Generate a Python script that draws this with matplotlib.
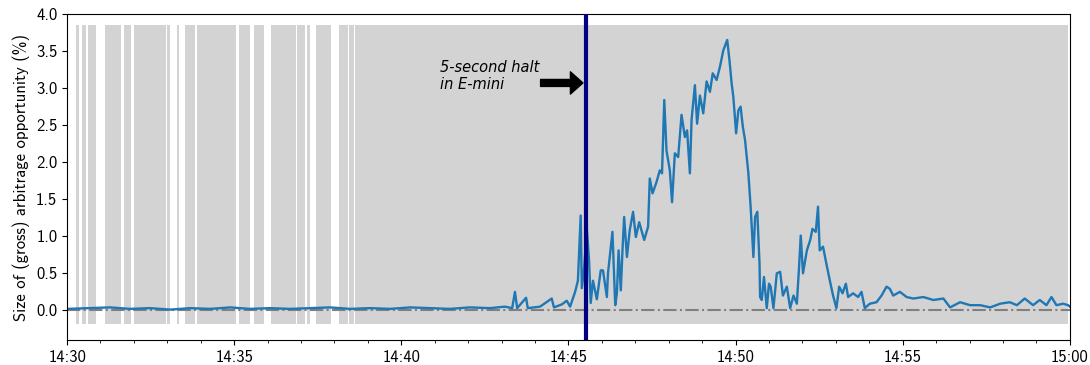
import matplotlib
matplotlib.use("Agg")
import matplotlib.pyplot as plt

# seconds after 14:30:00 and size of the arbitrage opportunity (%)
t_sec = [0, 41, 77, 113, 149, 185, 221, 257, 293, 328, 364, 400, 436, 472, 508,
         544, 580, 616, 651, 687, 723, 759, 786, 799, 804, 808, 824, 827, 849,
         870, 874, 888, 897, 903, 912, 917, 922, 924, 928, 933, 937, 940, 944,
         951, 958, 962, 969, 971, 979, 984, 987, 990, 994, 997, 1000, 1005,
         1010, 1016, 1021, 1027, 1036, 1043, 1046, 1051, 1058, 1064, 1068,
         1072, 1076, 1082, 1086, 1091, 1097, 1103, 1109, 1113, 1118, 1121,
         1127, 1131, 1136, 1142, 1148, 1154, 1159, 1166, 1172, 1178, 1185,
         1189, 1193, 1196, 1201, 1205, 1209, 1213, 1217, 1223, 1227, 1232,
         1235, 1239, 1243, 1244, 1247, 1251, 1256, 1260, 1263, 1268, 1274,
         1280, 1285, 1292, 1298, 1304, 1310, 1314, 1317, 1321, 1328, 1334,
         1338, 1344, 1348, 1351, 1357, 1363, 1369, 1375, 1381, 1386, 1392,
         1398, 1402, 1411, 1420, 1426, 1432, 1441, 1453, 1462, 1471, 1477,
         1483, 1495, 1507, 1519, 1537, 1555, 1573, 1585, 1603, 1621, 1639,
         1657, 1675, 1692, 1705, 1719, 1734, 1746, 1758, 1767, 1776, 1788,
         1797, 1800]
arb_pct = [0.02, 0.03, 0.04, 0.02, 0.03, 0.01, 0.03, 0.02, 0.04, 0.02, 0.03,
           0.02, 0.03, 0.04, 0.02, 0.03, 0.02, 0.04, 0.03, 0.02, 0.04, 0.03,
           0.05, 0.03, 0.25, 0.03, 0.17, 0.03, 0.05, 0.16, 0.04, 0.08, 0.13,
           0.05, 0.25, 0.40, 1.28, 0.30, 0.55, 1.10, 0.68, 0.10, 0.40, 0.15,
           0.54, 0.54, 0.18, 0.50, 1.06, 0.07, 0.23, 0.81, 0.27, 0.81, 1.26,
           0.72, 1.08, 1.33, 0.99, 1.19, 0.95, 1.13, 1.78, 1.58, 1.73, 1.89,
           1.85, 2.84, 2.16, 1.89, 1.46, 2.12, 2.07, 2.64, 2.34, 2.43, 1.85,
           2.57, 3.04, 2.52, 2.90, 2.66, 3.09, 2.95, 3.20, 3.11, 3.29, 3.51,
           3.65, 3.38, 3.06, 2.88, 2.39, 2.70, 2.75, 2.48, 2.30, 1.85, 1.40,
           0.72, 1.26, 1.33, 0.63, 0.18, 0.14, 0.45, 0.03, 0.36, 0.32, 0.03,
           0.50, 0.52, 0.20, 0.32, 0.03, 0.20, 0.09, 0.59, 1.01, 0.50, 0.81,
           0.95, 1.10, 1.06, 1.40, 0.81, 0.86, 0.63, 0.41, 0.20, 0.03, 0.32,
           0.23, 0.36, 0.18, 0.23, 0.18, 0.25, 0.03, 0.09, 0.11, 0.20, 0.32,
           0.29, 0.20, 0.25, 0.18, 0.16, 0.18, 0.14, 0.16, 0.04, 0.11, 0.07,
           0.07, 0.04, 0.09, 0.11, 0.07, 0.16, 0.07, 0.14, 0.07, 0.18, 0.07,
           0.09, 0.07, 0.05]

# periods (seconds after 14:30) shaded in grey
band_start = [16, 27, 38, 68, 102, 120, 180, 197, 211, 233, 309, 336, 367,
              413, 431, 446, 489, 507, 517]
band_end = [22, 34, 52, 96, 115, 177, 184, 201, 230, 303, 328, 354, 411,
            428, 436, 474, 504, 515, 1797]
band_low, band_high = -0.18, 3.85

halt_sec = 931          # 14:45:31
tick_sec = [0, 300, 600, 900, 1200, 1500, 1800]
tick_labels = ["14:30", "14:35", "14:40", "14:45", "14:50", "14:55", "15:00"]

plt.rcParams['font.family'] = ['cmss10', 'DejaVu Sans']
plt.rcParams['axes.formatter.use_mathtext'] = True

fig = plt.figure(figsize=(10.9, 3.65), dpi=100)
ax = fig.add_axes([0.0615, 0.0685, 0.920, 0.893])

for s, e in zip(band_start, band_end):
    ax.fill_between([s, e], band_low, band_high, color='lightgray', lw=0, zorder=0)

ax.axhline(0, color='gray', ls='-.', lw=1.5, zorder=1)
ax.plot(t_sec, arb_pct, color='#1f77b4', lw=1.7, zorder=2)
ax.axvline(halt_sec, color='navy', lw=3, zorder=4)

ax.text(670, 3.16, "5-second halt\nin E-mini", fontsize=10.5, style='italic',
        family='DejaVu Sans', ha='left', va='center', linespacing=1.15)
ax.annotate("", xy=(926, 3.07), xytext=(850, 3.07),
            arrowprops=dict(facecolor='black', edgecolor='black', width=5,
                            headwidth=16, headlength=9, shrink=0))

ax.set_xlim(0, 1800)
ax.set_ylim(-0.4, 4.0)
ax.set_xticks(tick_sec)
ax.set_xticklabels(tick_labels)
ax.set_xticks(range(0, 1801, 60), minor=True)
ax.set_yticks([0, 0.5, 1, 1.5, 2, 2.5, 3, 3.5, 4])
ax.set_yticklabels(["0.0", "0.5", "1.0", "1.5", "2.0", "2.5", "3.0", "3.5", "4.0"])
ax.tick_params(labelsize=12)
ax.set_ylabel("Size of (gross) arbitrage opportunity (%)", fontsize=12)

fig.savefig("out.png", dpi=100)
